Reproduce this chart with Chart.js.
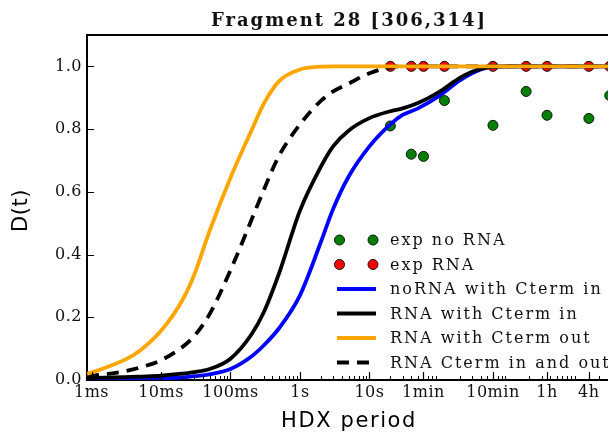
<!DOCTYPE html>
<html>
<head>
<meta charset="utf-8">
<title>Fragment 28 [306,314]</title>
<script src="https://cdn.jsdelivr.net/npm/chart.js@4.4.1/dist/chart.umd.min.js"></script>
<style>
  html, body { margin: 0; padding: 0; overflow: hidden; background: #fff; }
  #wrap { width: 620px; height: 434px; }
</style>
</head>
<body>
<div id="wrap"><canvas id="hdx" width="620" height="434"></canvas></div>
<script>
// x axis: HDX period in seconds (log scale), labelled with readable durations
const tickSeconds = [0.001, 0.01, 0.1, 1, 10, 60, 600, 3600, 14400];
const tickLabels = ['1ms', '10ms', '100ms', '1s', '10s', '1min', '10min', '1h', '4h'];
const yTicks = [0, 0.2, 0.4, 0.6, 0.8, 1.0];

// measured deuteration
const expTimes = [20, 40, 60, 120, 600, 1800, 3600, 14400, 28800];
const expNoRna = [0.81, 0.72, 0.713, 0.891, 0.812, 0.92, 0.844, 0.834, 0.907];
const expRna = [1, 1, 1, 1, 1, 1, 1, 1, 1];

// model curves, sampled on a common time grid
const modelTimes = [0.00086, 0.001, 0.002, 0.003, 0.005, 0.01, 0.02, 0.03, 0.05, 0.1,
  0.2, 0.3, 0.5, 1, 2, 3, 5, 10, 20, 30, 50, 100, 200, 300, 500, 1000, 3000, 10000, 30000];
const noRnaCtermIn = [0.002, 0.002, 0.003, 0.003, 0.004, 0.005, 0.008, 0.012, 0.018, 0.035,
  0.075, 0.11, 0.165, 0.27, 0.44, 0.545, 0.648, 0.745, 0.815, 0.845, 0.866, 0.905, 0.955, 0.978, 0.996, 1, 1, 1, 1];
const rnaCtermIn = [0.006, 0.007, 0.008, 0.009, 0.011, 0.014, 0.02, 0.025, 0.035, 0.068,
  0.145, 0.215, 0.34, 0.54, 0.68, 0.745, 0.795, 0.835, 0.857, 0.866, 0.883, 0.918, 0.963, 0.983, 0.997, 1, 1, 1, 1];
const rnaCtermOut = [0.02, 0.024, 0.048, 0.064, 0.094, 0.157, 0.252, 0.335, 0.475, 0.645,
  0.795, 0.88, 0.953, 0.99, 0.999, 1, 1, 1, 1, 1, 1, 1, 1, 1, 1, 1, 1, 1, 1];
const rnaCtermInOut = [0.012, 0.014, 0.021, 0.028, 0.04, 0.063, 0.104, 0.14, 0.21, 0.35,
  0.51, 0.605, 0.715, 0.815, 0.89, 0.92, 0.945, 0.978, 0.997, 1, 1, 1, 1, 1, 1, 1, 1, 1, 1];

const toPoints = (xs, ys) => xs.map((x, i) => ({ x: x, y: ys[i] }));

function curve(label, values, color, dash, order) {
  return {
    label: label,
    data: toPoints(modelTimes, values),
    borderColor: color,
    borderWidth: 3.8,
    borderDash: dash,
    pointRadius: 0,
    cubicInterpolationMode: 'monotone',
    order: order
  };
}

function markers(label, values, color, order) {
  return {
    label: label,
    data: toPoints(expTimes, values),
    showLine: false,
    pointRadius: 5,
    pointBackgroundColor: color,
    pointBorderColor: '#111',
    pointBorderWidth: 1,
    order: order
  };
}

// letter spacing for text drawn by the library
function spaced(box, method, px, dy) {
  const orig = box[method];
  box[method] = function () {
    const ctx = this.ctx;
    ctx.save();
    ctx.letterSpacing = px + 'px';
    if (dy) ctx.translate(0, dy);
    orig.apply(this, arguments);
    ctx.restore();
  };
}

const spacingPlugin = {
  id: 'spacing',
  beforeDraw(chart) {
    if (chart.$spaced) return;
    chart.$spaced = true;
    spaced(chart.titleBlock, 'draw', 2);
    spaced(chart.scales.x, 'drawLabels', 0.5);
    spaced(chart.scales.y, 'drawLabels', 0.5);
    spaced(chart.scales.x, 'drawTitle', 1.6);
    spaced(chart.scales.y, 'drawTitle', 0.5, 3);
  }
};

// top frame line plus inward tick marks
const framePlugin = {
  id: 'frame',
  afterDraw(chart) {
    const { ctx, chartArea: a, scales: { x, y } } = chart;
    ctx.save();
    ctx.strokeStyle = '#000';
    ctx.lineWidth = 2;
    ctx.beginPath();
    ctx.moveTo(a.left - 1, a.top);
    ctx.lineTo(a.right, a.top);
    ctx.lineTo(a.right, a.bottom);
    ctx.stroke();

    ctx.lineWidth = 1;
    ctx.beginPath();
    for (let e = -4; e <= 4; e++) {
      for (let m = 2; m <= 9; m++) {
        const v = m * Math.pow(10, e);
        if (v < x.min || v > x.max) continue;
        const px = Math.round(x.getPixelForValue(v)) + 0.5;
        ctx.moveTo(px, a.bottom);
        ctx.lineTo(px, a.bottom - 4);
      }
    }
    ctx.stroke();

    ctx.lineWidth = 1.2;
    ctx.beginPath();
    tickSeconds.forEach(v => {
      const px = Math.round(x.getPixelForValue(v)) + 0.5;
      ctx.moveTo(px, a.bottom);
      ctx.lineTo(px, a.bottom - 8);
    });
    yTicks.forEach(v => {
      const py = Math.round(y.getPixelForValue(v)) + 0.5;
      ctx.moveTo(a.left, py);
      ctx.lineTo(a.left + 7, py);
    });
    ctx.stroke();
    ctx.restore();
  }
};

// legend in the lower right of the plot
const legendPlugin = {
  id: 'cornerLegend',
  afterDraw(chart) {
    const ctx = chart.ctx;
    ctx.save();
    ctx.letterSpacing = '2px';
    ctx.font = '16px "DejaVu Serif"';
    ctx.textBaseline = 'middle';
    chart.data.datasets.forEach((ds, i) => {
      const yy = 240 + i * 24.5;
      if (ds.showLine === false) {
        [339.5, 373].forEach(cx => {
          ctx.beginPath();
          ctx.arc(cx, yy, 5, 0, Math.PI * 2);
          ctx.fillStyle = ds.pointBackgroundColor;
          ctx.fill();
          ctx.lineWidth = 1;
          ctx.strokeStyle = '#111';
          ctx.stroke();
        });
      } else {
        ctx.beginPath();
        ctx.setLineDash(ds.borderDash || []);
        ctx.lineWidth = ds.borderWidth;
        ctx.strokeStyle = ds.borderColor;
        ctx.moveTo(337, yy);
        ctx.lineTo(376, yy);
        ctx.stroke();
        ctx.setLineDash([]);
      }
      ctx.fillStyle = '#111';
      ctx.fillText(ds.label, 390, yy + 1);
    });
    ctx.restore();
  }
};

new Chart(document.getElementById('hdx'), {
  type: 'line',
  data: {
    datasets: [
      markers('exp no RNA', expNoRna, '#008000', 6),
      markers('exp RNA', expRna, '#ff0000', 5),
      curve('noRNA with Cterm in', noRnaCtermIn, '#0000ff', [], 4),
      curve('RNA with Cterm in', rnaCtermIn, '#000000', [], 3),
      curve('RNA with Cterm out', rnaCtermOut, '#ffa500', [], 1),
      curve('RNA Cterm in and out', rnaCtermInOut, '#000000', [12, 8], 2)
    ]
  },
  options: {
    responsive: false,
    animation: false,
    devicePixelRatio: 1,
    layout: { padding: { left: 0, right: 9, top: 0, bottom: 0 } },
    plugins: {
      legend: { display: false },
      tooltip: { enabled: false },
      title: {
        display: true,
        fullSize: false,
        text: 'Fragment 28 [306,314]',
        color: '#111',
        font: { family: 'DejaVu Serif', size: 18, weight: 'bold', lineHeight: 1.2 },
        padding: { top: 11, bottom: 2.4 }
      }
    },
    scales: {
      x: {
        type: 'logarithmic',
        bounds: 'data',
        min: 0.00086,
        max: 30000,
        afterBuildTicks: s => { s.ticks = tickSeconds.map(v => ({ value: v })); },
        afterFit: s => { s.height = 54; },
        grid: { display: false, drawTicks: false },
        border: { display: true, color: '#000', width: 2 },
        ticks: {
          autoSkip: false,
          maxRotation: 0,
          padding: 3,
          color: '#111',
          font: { family: 'DejaVu Serif', size: 16, lineHeight: 1.2 },
          callback: (v, i) => tickLabels[i]
        },
        title: {
          display: true,
          text: 'HDX period',
          color: '#000',
          font: { family: 'DejaVu Sans', size: 21, lineHeight: 1.2 },
          padding: { top: 0, bottom: 0 }
        }
      },
      y: {
        min: 0,
        max: 1.1,
        afterBuildTicks: s => { s.ticks = yTicks.map(v => ({ value: v })); },
        afterFit: s => { s.width = 87; },
        grid: { display: false, drawTicks: false },
        border: { display: true, color: '#000', width: 2 },
        ticks: {
          padding: 5,
          color: '#111',
          font: { family: 'DejaVu Serif', size: 16, lineHeight: 1.2 },
          callback: v => v.toFixed(1)
        },
        title: {
          display: true,
          text: 'D(t)',
          color: '#000',
          font: { family: 'DejaVu Sans', size: 21, lineHeight: 1.2 },
          padding: { top: 9, bottom: 0 }
        }
      }
    }
  },
  plugins: [spacingPlugin, framePlugin, legendPlugin]
});
</script>
</body>
</html>
